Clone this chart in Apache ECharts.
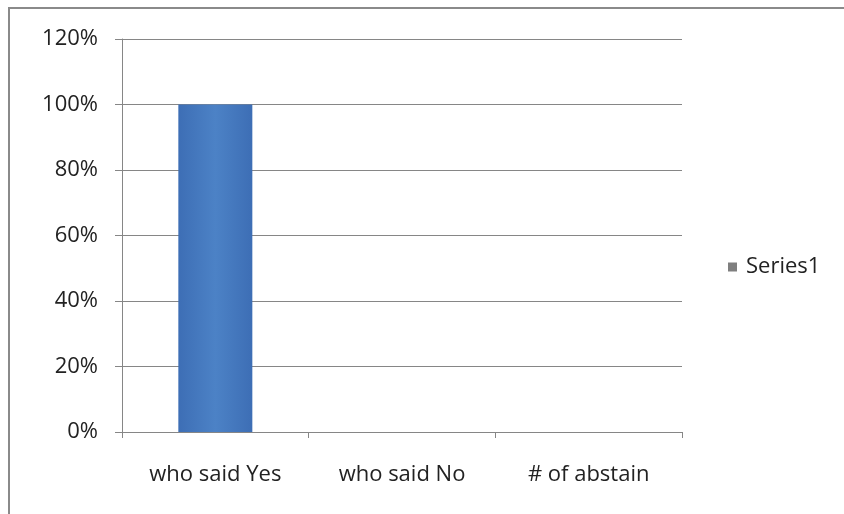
<!DOCTYPE html>
<html><head><meta charset="utf-8">
<script src="https://cdn.jsdelivr.net/npm/echarts@6/dist/echarts.min.js"></script>
<style>html,body{margin:0;padding:0;background:#fff}#c{width:844px;height:514px}</style>
</head><body><div id="c"></div>
<script>
const categories = ['who said Yes', 'who said No', '# of abstain'];
const series1 = [1.0, 0, 0];
const seriesName = 'Series1';

const chart = echarts.init(document.getElementById('c'));
const font = 'Open Sans, Liberation Sans, sans-serif';
chart.setOption({
  animation: false,
  backgroundColor: '#fff',
  graphic: [{type: 'rect', shape: {x: 9, y: 8, width: 850, height: 520}, style: {fill: 'none', stroke: '#8a8a8a', lineWidth: 2}}],
  grid: {left: 122, top: 39, width: 560, height: 393},
  legend: {show: true, orient: 'vertical', left: 723, top: 251, itemWidth: 9, itemHeight: 9, itemGap: 6,
    icon: 'rect', textStyle: {fontFamily: font, fontSize: 22, color: '#222', padding: [0, 0, 0, 4]}, data: [{name: seriesName, itemStyle: {color: '#7f7f7f'}}]},
  xAxis: {type: 'category', data: categories,
    axisLine: {lineStyle: {color: '#868686', width: 1}},
    axisTick: {show: true, length: 6, alignWithLabel: false, lineStyle: {color: '#868686'}},
    axisLabel: {margin: 32, fontFamily: font, fontSize: 22, color: '#222'}},
  yAxis: {type: 'value', min: 0, max: 1.2, interval: 0.2,
    axisLine: {show: true, lineStyle: {color: '#868686'}},
    axisTick: {show: true, length: 7, lineStyle: {color: '#868686'}},
    splitLine: {lineStyle: {color: '#868686', width: 1}},
    axisLabel: {margin: 24, fontFamily: font, fontSize: 22, color: '#222',
      formatter: v => Math.round(v * 100) + '%'}},
  series: [{name: seriesName, type: 'bar', data: series1, barWidth: 74,
    itemStyle: {color: new echarts.graphic.LinearGradient(0, 0, 1, 0, [
      {offset: 0, color: '#3d6eb5'}, {offset: 0.5, color: '#4c82c6'}, {offset: 1, color: '#3d6eb5'}])}}]
});
</script></body></html>
